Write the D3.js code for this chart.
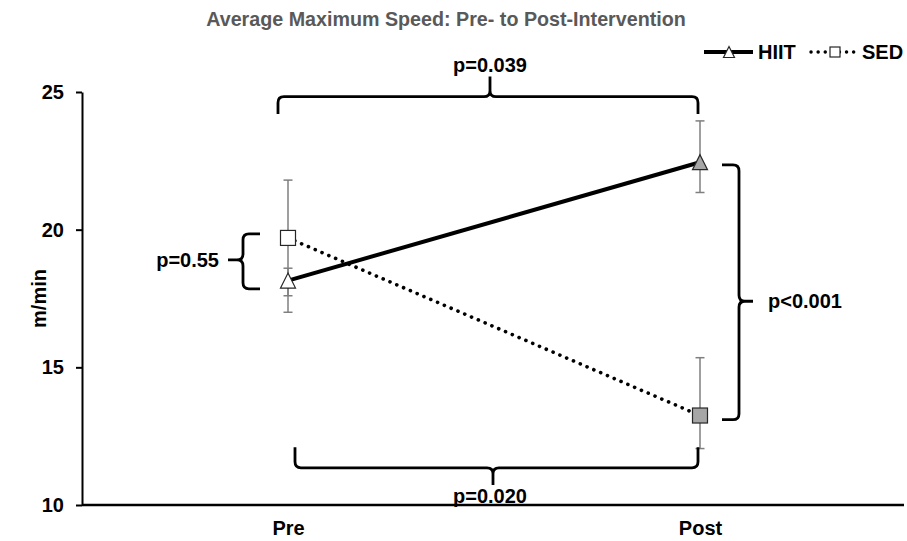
<!DOCTYPE html>
<html>
<head>
<meta charset="utf-8">
<script src="https://cdn.jsdelivr.net/npm/d3@7"></script>
<style>
  html, body { margin: 0; padding: 0; background: #fff; }
  text { font-family: "Liberation Sans", Arial, sans-serif; font-weight: bold; }
</style>
</head>
<body>
<svg id="chart" width="907" height="541"></svg>
<script>
// ---- data ----
const categories = ["Pre", "Post"];
const hiitMean  = [18.15, 22.45];
const hiitUpper = [18.6, 23.95];
const hiitLower = [17.0, 21.35];
const sedMean   = [19.7, 13.25];
const sedUpper  = [21.8, 15.35];
const sedLower  = [17.6, 12.05];
const yTicks = [10, 15, 20, 25];
const titleText = "Average Maximum Speed: Pre- to Post-Intervention";
const yLabel = "m/min";
const seriesNames = ["HIIT", "SED"];
// significance annotations (in data units)
const pTop = { label: "p=0.039", line: 24.83, ends: 24.2, tip: 25.56 };
const pBottom = { label: "p=0.020", line: 11.35, ends: 12.1, tip: 10.73 };
const pPre = { label: "p=0.55", from: 19.85, to: 17.85, mid: 18.9 };
const pPost = { label: "p<0.001", from: 22.35, to: 13.1, mid: 17.4 };

const svg = d3.select("#chart");
const W = 907, H = 541;
const margin = { left: 82, right: 3, top: 92, bottom: 36 };
const FS = 20;

const x = d3.scalePoint().domain(categories).range([margin.left, W - 1]).padding(0.5);
const y = d3.scaleLinear().domain([10, 25]).range([H - margin.bottom, margin.top]);

const black = "#000";
const errColor = "#7f7f7f";
const postFill = "#a6a6a6";

// title
svg.append("text").attr("x", 446).attr("y", 26).attr("text-anchor", "middle")
  .attr("fill", "#595959").attr("font-size", 19.7).text(titleText);

// axes
const yAxis = svg.append("g").attr("transform", `translate(${margin.left},0)`)
  .call(d3.axisLeft(y).tickValues(yTicks).tickSize(6).tickSizeOuter(0).tickPadding(12));
yAxis.select(".domain").attr("stroke", black).attr("stroke-width", 2);
yAxis.selectAll(".tick line").attr("stroke", black).attr("stroke-width", 2);
yAxis.selectAll(".tick text").attr("font-size", FS).attr("fill", black)
  .attr("font-family", "Liberation Sans, Arial, sans-serif").attr("font-weight", "bold");

const xAxis = svg.append("g").attr("transform", `translate(0,${y(10)})`)
  .call(d3.axisBottom(x).tickSize(0).tickPadding(16));
xAxis.select(".domain").attr("stroke", black).attr("stroke-width", 2.5)
  .attr("d", `M${margin.left},0H${W - 3}`);
xAxis.selectAll(".tick text").attr("font-size", FS).attr("fill", black)
  .attr("font-family", "Liberation Sans, Arial, sans-serif").attr("font-weight", "bold");

svg.append("text").attr("transform", `translate(46,${(y(25) + y(10)) / 2}) rotate(-90)`)
  .attr("text-anchor", "middle").attr("font-size", FS).attr("fill", black).text(yLabel);

// error bars
function errorBars(mean, up, lo) {
  const g = svg.append("g");
  categories.forEach((c, i) => {
    const cx = x(c);
    g.append("line").attr("x1", cx).attr("x2", cx).attr("y1", y(up[i])).attr("y2", y(lo[i]))
      .attr("stroke", errColor).attr("stroke-width", 1.5);
    [up[i], lo[i]].forEach(v => g.append("line").attr("x1", cx - 4.5).attr("x2", cx + 4.5)
      .attr("y1", y(v)).attr("y2", y(v)).attr("stroke", errColor).attr("stroke-width", 1.5));
  });
}
errorBars(hiitMean, hiitUpper, hiitLower);
errorBars(sedMean, sedUpper, sedLower);

// lines
const line = d3.line().x((d, i) => x(categories[i])).y(d => y(d));
svg.append("path").datum(sedMean).attr("d", line).attr("fill", "none")
  .attr("stroke", black).attr("stroke-width", 3.6).attr("stroke-dasharray", "0.1 7.3")
  .attr("stroke-linecap", "round");
svg.append("path").datum(hiitMean).attr("d", line).attr("fill", "none")
  .attr("stroke", black).attr("stroke-width", 4);

// markers
function triPath(s) {
  return `M0,${-s / 2}L${s / 2},${s / 2}L${-s / 2},${s / 2}Z`;
}
categories.forEach((c, i) => {
  svg.append("path").attr("d", triPath(15)).attr("transform", `translate(${x(c)},${y(hiitMean[i])})`)
    .attr("fill", i === 0 ? "#fff" : postFill).attr("stroke", "#262626").attr("stroke-width", 1.2);
  svg.append("rect").attr("x", x(c) - 7.5).attr("y", y(sedMean[i]) - 7.5).attr("width", 15).attr("height", 15)
    .attr("fill", i === 0 ? "#fff" : postFill).attr("stroke", "#262626").attr("stroke-width", 1.2);
});

// braces
const braceStyle = g => g.attr("fill", "none").attr("stroke", black).attr("stroke-width", 2.8);
function hBrace(x0, x1, yl, ye, yt, xm) {
  const r = 6 * Math.sign(ye - yl);
  const rt = 6 * Math.sign(yt - yl);
  return `M${x0},${ye}L${x0},${yl + r}Q${x0},${yl} ${x0 + 6},${yl}L${xm - 6},${yl}Q${xm},${yl} ${xm},${yl + rt}L${xm},${yt}` +
         `M${xm},${yl + rt}Q${xm},${yl} ${xm + 6},${yl}L${x1 - 6},${yl}Q${x1},${yl} ${x1},${yl + r}L${x1},${ye}`;
}
function vBrace(y0, y1, xl, xe, xt, ym) {
  const r = 6 * Math.sign(xe - xl);
  const rt = 6 * Math.sign(xt - xl);
  return `M${xe},${y0}L${xl + r},${y0}Q${xl},${y0} ${xl},${y0 + 6}L${xl},${ym - 6}Q${xl},${ym} ${xl + rt},${ym}L${xt},${ym}` +
         `M${xl + rt},${ym}Q${xl},${ym} ${xl},${ym + 6}L${xl},${y1 - 6}Q${xl},${y1} ${xl + r},${y1}L${xe},${y1}`;
}
const xPre = x("Pre"), xPost = x("Post");
svg.append("path").attr("d", hBrace(xPre - 10, xPost - 2, y(pTop.line), y(pTop.ends), y(pTop.tip), (xPre + xPost) / 2 - 4))
  .call(braceStyle);
svg.append("text").attr("x", (xPre + xPost) / 2 - 4).attr("y", y(pTop.tip) - 5).attr("text-anchor", "middle")
  .attr("font-size", FS).attr("fill", black).text(pTop.label);

svg.append("path").attr("d", hBrace(xPre + 7, xPost - 2, y(pBottom.line), y(pBottom.ends), y(pBottom.tip), (xPre + xPost) / 2 - 1))
  .call(braceStyle);
svg.append("text").attr("x", (xPre + xPost) / 2 - 4).attr("y", y(pBottom.tip) + 18).attr("text-anchor", "middle")
  .attr("font-size", FS).attr("fill", black).text(pBottom.label);

svg.append("path").attr("d", vBrace(y(pPre.from), y(pPre.to), xPre - 45, xPre - 28, xPre - 60, y(pPre.mid)))
  .call(braceStyle);
svg.append("text").attr("x", xPre - 69).attr("y", y(pPre.mid) + 7).attr("text-anchor", "end")
  .attr("font-size", FS).attr("fill", black).text(pPre.label);

svg.append("path").attr("d", vBrace(y(pPost.from), y(pPost.to), xPost + 39, xPost + 22, xPost + 53, y(pPost.mid)))
  .call(braceStyle);
svg.append("text").attr("x", xPost + 68).attr("y", y(pPost.mid) + 7)
  .attr("font-size", FS).attr("fill", black).text(pPost.label);

// legend
const lg = svg.append("g");
lg.append("line").attr("x1", 704).attr("x2", 753).attr("y1", 52).attr("y2", 52).attr("stroke", black).attr("stroke-width", 4);
lg.append("path").attr("d", triPath(11)).attr("transform", "translate(729,52)").attr("fill", "#fff").attr("stroke", "#262626").attr("stroke-width", 1.2);
lg.append("text").attr("x", 758).attr("y", 59).attr("font-size", FS).attr("fill", black).text(seriesNames[0]);
lg.append("line").attr("x1", 811).attr("x2", 857).attr("y1", 52).attr("y2", 52).attr("stroke", black).attr("stroke-width", 3.4)
  .attr("stroke-dasharray", "0.1 7").attr("stroke-linecap", "round");
lg.append("rect").attr("x", 830).attr("y", 47).attr("width", 10).attr("height", 10).attr("fill", "#fff").attr("stroke", "#262626").attr("stroke-width", 1.2);
lg.append("text").attr("x", 862).attr("y", 59).attr("font-size", FS).attr("fill", black).text(seriesNames[1]);
</script>
</body>
</html>
